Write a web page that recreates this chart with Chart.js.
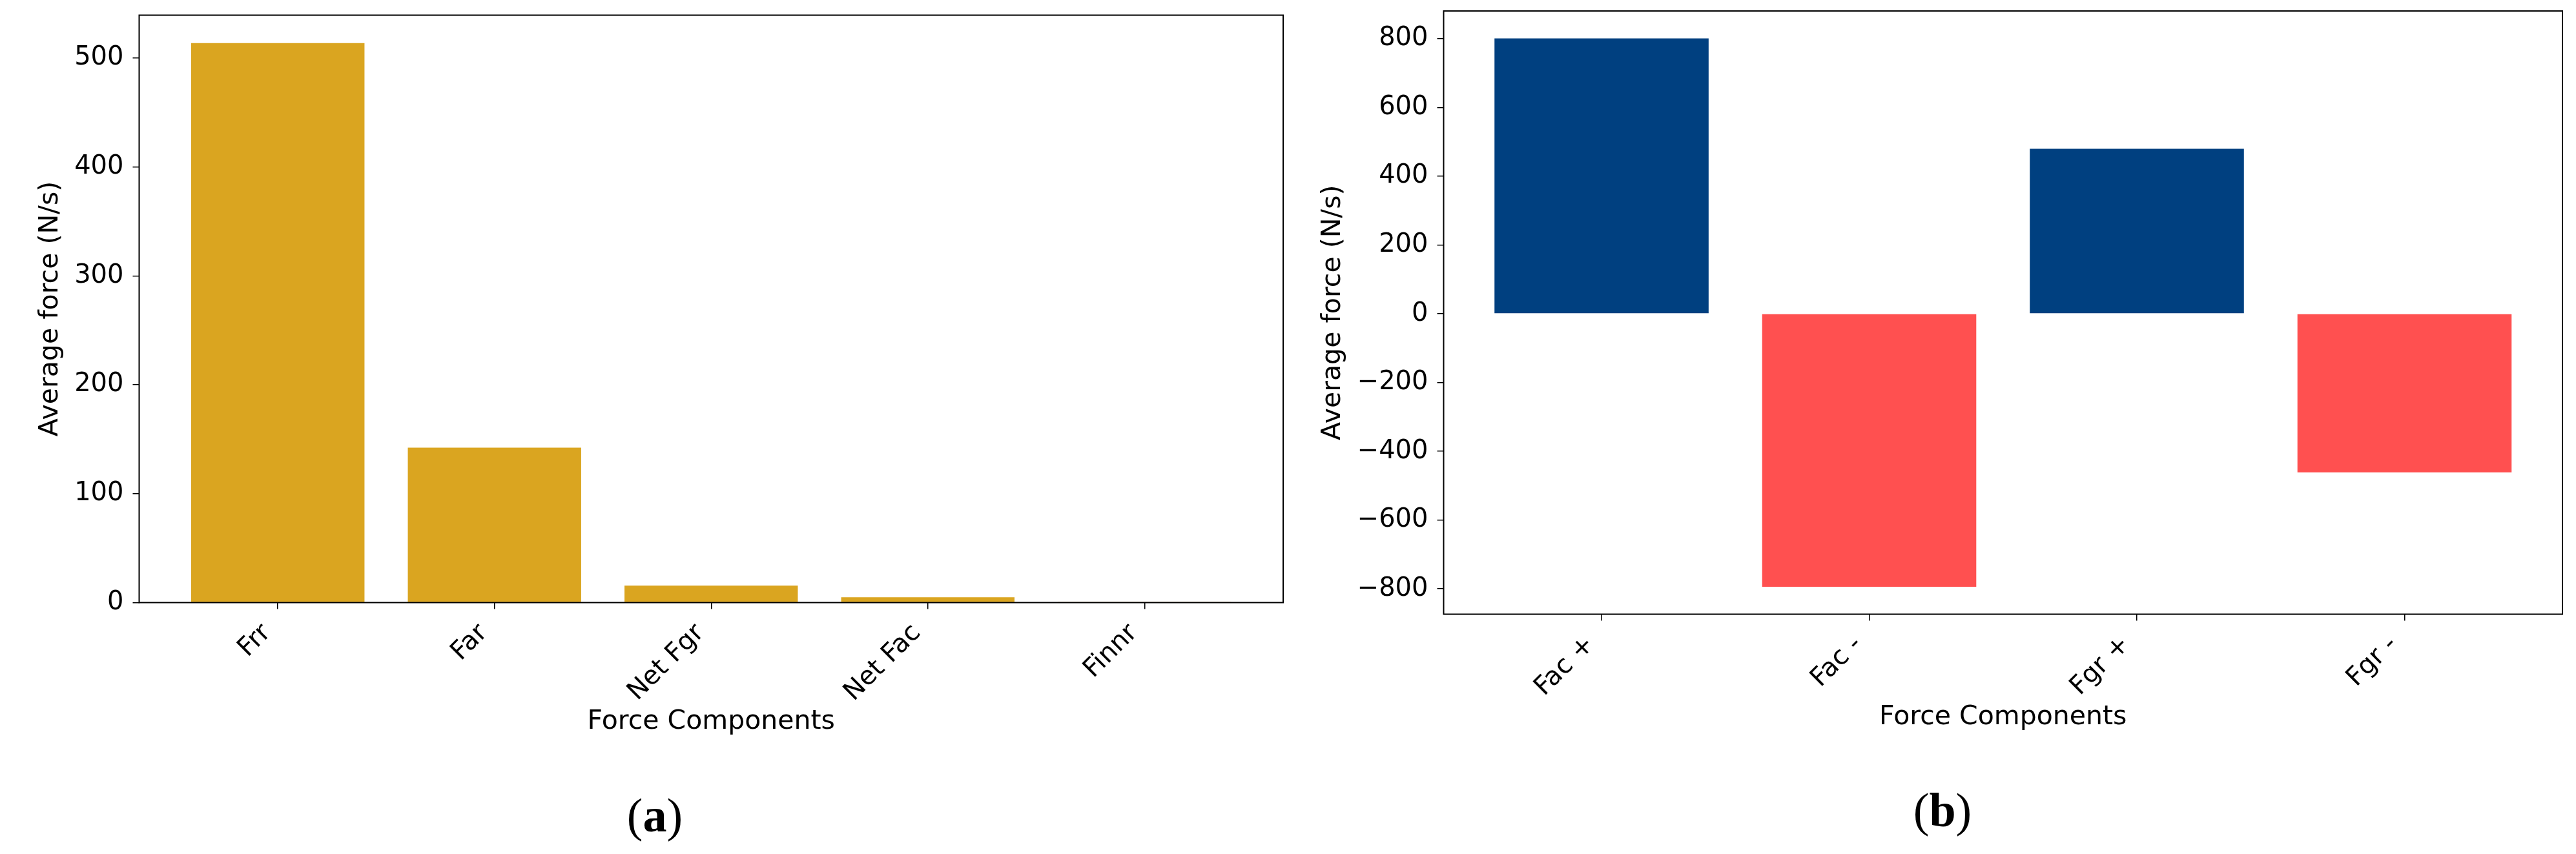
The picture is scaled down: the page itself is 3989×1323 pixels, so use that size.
<!DOCTYPE html>
<html><head><meta charset="utf-8">
<script src="https://cdn.jsdelivr.net/npm/chart.js@4"></script>
<style>
html,body{margin:0;padding:0;background:#fff;}
body{width:3989px;height:1323px;position:relative;overflow:hidden;}
canvas{position:absolute;top:0;}
.cap{position:absolute;font-family:'Liberation Serif',serif;font-size:74px;line-height:74px;transform:translateX(-50%);white-space:nowrap;color:#000;}
</style></head><body>
<canvas id="ca" width="2000" height="1323" style="left:0;width:2000px;height:1323px"></canvas>
<canvas id="cb" width="1989" height="1323" style="left:2000px;width:1989px;height:1323px"></canvas>
<div class="cap" style="left:1014px;top:1226px">(<b>a</b>)</div>
<div class="cap" style="left:3008px;top:1218px">(<b>b</b>)</div>
<script>
const categoriesA = ['Frr', 'Far', 'Net Fgr', 'Net Fac', 'Finnr'];
const valuesA = [513.6, 142.3, 15.5, 4.9, 0.2];
const colorsA = ['#DAA520', '#DAA520', '#DAA520', '#DAA520', '#DAA520'];
const yTicksA = [0, 100, 200, 300, 400, 500];

const categoriesB = ['Fac +', 'Fac -', 'Fgr +', 'Fgr -'];
const valuesB = [801, -794, 480, -461];
const colorsB = ['#004080', '#FF5050', '#004080', '#FF5050'];
const yTicksB = [-800, -600, -400, -200, 0, 200, 400, 600, 800];

const xTitle = 'Force Components';
const yTitle = 'Average force (N/s)';

Chart.defaults.font.family = "'DejaVu Sans', sans-serif";
Chart.defaults.color = '#000';

const frame = {
  id: 'frame',
  afterDraw(c) {
    const {ctx, chartArea: a} = c;
    ctx.save();
    ctx.strokeStyle = '#000';
    ctx.lineWidth = 2;
    ctx.strokeRect(a.left, a.top, a.right - a.left, a.bottom - a.top);
    ctx.restore();
  }
};

function build(id, cats, vals, colors, yTicks, L) {
  const n = cats.length;
  const xm = 0.05 * (n - 1 + 0.8);
  const lo = Math.min(0, ...vals), hi = Math.max(0, ...vals);
  const ym = 0.05 * (hi - lo);
  const gridOpts = {offset: false, drawOnChartArea: false, drawTicks: true, tickLength: 10, color: '#000', lineWidth: 1.5};
  return new Chart(document.getElementById(id), {
    type: 'bar',
    data: {
      datasets: [{
        data: vals.map((v, i) => ({x: i, y: v})),
        backgroundColor: colors,
        borderWidth: 0,
        categoryPercentage: 1,
        barPercentage: 0.8
      }]
    },
    options: {
      responsive: false,
      animation: false,
      devicePixelRatio: 1,
      layout: {padding: {left: 0, top: L.top, right: L.right, bottom: L.bottom}},
      plugins: {legend: {display: false}, tooltip: {enabled: false}},
      scales: {
        x: {
          type: 'linear',
          offset: false,
          min: -0.4 - xm,
          max: n - 1 + 0.4 + xm,
          afterBuildTicks: s => { s.ticks = cats.map((_, i) => ({value: i})); },
          afterFit: s => { s.height = L.xh; s.paddingLeft = 0; s.paddingRight = 0; },
          ticks: {
            autoSkip: false, maxRotation: 45, minRotation: 45,
            padding: 14, labelOffset: -17, color: '#000', font: {size: 40},
            callback: v => cats[v]
          },
          grid: gridOpts,
          border: {display: false},
          title: {display: true, text: xTitle, color: '#000', font: {size: 41}, padding: 0}
        },
        y: {
          type: 'linear',
          min: lo < 0 ? lo - ym : 0,
          max: hi > 0 ? hi + ym : 0,
          afterBuildTicks: s => { s.ticks = yTicks.map(v => ({value: v})); },
          afterFit: s => { s.width = L.yw; s.paddingTop = 0; s.paddingBottom = 0; },
          ticks: {
            padding: 14, color: '#000', font: {size: 40},
            callback: v => v < 0 ? '\u2212' + Math.abs(v) : String(v)
          },
          grid: gridOpts,
          border: {display: false},
          title: {display: true, text: yTitle, color: '#000', font: {size: 41}, padding: {top: L.yt, bottom: 0}}
        }
      }
    },
    plugins: [frame]
  });
}

build('ca', categoriesA, valuesA, colorsA, yTicksA,
  {top: 23.5, right: 13, bottom: 180.4, xh: 209.1, yw: 215.5, yt: 53.4});
build('cb', categoriesB, valuesB, colorsB, yTicksB,
  {top: 17, right: 21, bottom: 186.7, xh: 184.8, yw: 235.5, yt: 40.1});
</script>
</body></html>
